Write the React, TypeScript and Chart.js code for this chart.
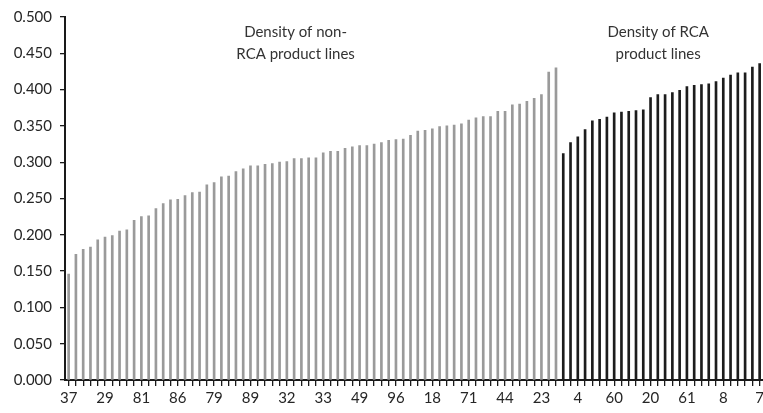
import React, { useEffect, useRef } from "react";
import { Chart, registerables } from "chart.js";

Chart.register(...registerables);

// Tick labels shown on every 5th product line
const tickLabels = ["37", "29", "81", "86", "79", "89", "32", "33", "49", "96", "18", "71", "44", "23", "4", "60", "20", "61", "8", "7"];
const labelStep = 5;

// Density of non-RCA product lines (sorted)
const nonRcaDensity = [
  0.146, 0.173, 0.180, 0.183, 0.193, 0.197, 0.199, 0.205, 0.207, 0.220,
  0.225, 0.226, 0.236, 0.243, 0.248, 0.249, 0.254, 0.258, 0.259, 0.269,
  0.272, 0.280, 0.281, 0.287, 0.291, 0.295, 0.295, 0.297, 0.298, 0.300,
  0.301, 0.305, 0.305, 0.306, 0.306, 0.313, 0.315, 0.315, 0.319, 0.321,
  0.323, 0.323, 0.325, 0.327, 0.330, 0.331, 0.332, 0.337, 0.343, 0.344,
  0.346, 0.349, 0.350, 0.351, 0.353, 0.358, 0.361, 0.363, 0.363, 0.370,
  0.370, 0.379, 0.380, 0.384, 0.388, 0.393, 0.424, 0.430,
];

// Density of RCA product lines (sorted)
const rcaDensity = [
  0.312, 0.327, 0.335, 0.345, 0.357, 0.359, 0.362, 0.368, 0.369, 0.370,
  0.371, 0.372, 0.389, 0.393, 0.393, 0.396, 0.399, 0.404, 0.406, 0.407,
  0.408, 0.411, 0.416, 0.420, 0.423, 0.423, 0.431, 0.436,
];

const nonRcaTitle = ["Density of non-", "RCA product lines"];
const rcaTitle = ["Density of RCA", "product lines"];

const FONT = "Lato, 'Open Sans', sans-serif";

export default function App() {
  const ref = useRef<HTMLCanvasElement | null>(null);

  useEffect(() => {
    if (!ref.current) return;
    const total = nonRcaDensity.length + rcaDensity.length;
    const categories: string[] = [];
    for (let i = 0; i < total; i++) {
      categories.push(i % labelStep === 0 ? tickLabels[i / labelStep] ?? "" : "");
    }
    const grayData = [...nonRcaDensity, ...rcaDensity.map(() => null)];
    const blackData = [...nonRcaDensity.map(() => null), ...rcaDensity];

    const annot = {
      id: "annot",
      afterDraw(chart: any) {
        const { ctx, scales } = chart;
        const x = scales.x, y = scales.y;
        ctx.save();
        ctx.font = `15px ${FONT}`;
        ctx.fillStyle = "#333333";
        ctx.textAlign = "center";
        ctx.textBaseline = "middle";
        const grayCenter = (nonRcaDensity.length - 1) / 2 - 2.3;
        const blackCenter = nonRcaDensity.length + (rcaDensity.length - 1) / 2 - 0.45;
        const lineVals = [0.4795, 0.4488];
        nonRcaTitle.forEach((t, i) => ctx.fillText(t, x.getPixelForValue(grayCenter), y.getPixelForValue(lineVals[i])));
        rcaTitle.forEach((t, i) => ctx.fillText(t, x.getPixelForValue(blackCenter), y.getPixelForValue(lineVals[i])));
        ctx.restore();
      },
    };

    const chart = new Chart(ref.current, {
      type: "bar",
      data: {
        labels: categories,
        datasets: [
          { label: "non-RCA", data: grayData as any, backgroundColor: "#9a9a9a", barThickness: 2, grouped: false } as any,
          { label: "RCA", data: blackData as any, backgroundColor: "#1c1c1c", barThickness: 2, grouped: false } as any,
        ],
      },
      options: {
        animation: false,
        responsive: false,
        devicePixelRatio: 1,
        layout: { padding: { top: 14, left: 0, right: 0, bottom: 0 } },
        plugins: { legend: { display: false }, tooltip: { enabled: false } },
        scales: {
          x: {
            offset: true,
            grid: { display: true, drawOnChartArea: false, drawTicks: true, tickLength: 6, offset: false, color: "#1a1a1a", lineWidth: 1.3 },
            border: { display: true, color: "#1a1a1a", width: 2 },
            ticks: { autoSkip: false, maxRotation: 0, minRotation: 0, padding: 3, color: "#262626", font: { family: FONT, size: 15 } },
            afterFit: (s: any) => { s.height = 33; },
          },
          y: {
            min: 0,
            max: 0.5,
            grid: { display: true, drawOnChartArea: false, drawTicks: true, tickLength: 5, color: "#1a1a1a", lineWidth: 1.3 },
            border: { display: true, color: "#1a1a1a", width: 2 },
            ticks: { stepSize: 0.05, padding: 8, color: "#262626", font: { family: FONT, size: 15 }, callback: (v: any) => Number(v).toFixed(3) },
            afterFit: (s: any) => { s.width = 65; },
          },
        },
      },
      plugins: [annot],
    });
    return () => chart.destroy();
  }, []);

  return (
    <div style={{ position: "fixed", left: 0, top: 0, right: 0, bottom: 0, overflow: "hidden", background: "#fff" }}>
      <canvas ref={ref} width={767} height={413} style={{ display: "block" }} />
    </div>
  );
}
